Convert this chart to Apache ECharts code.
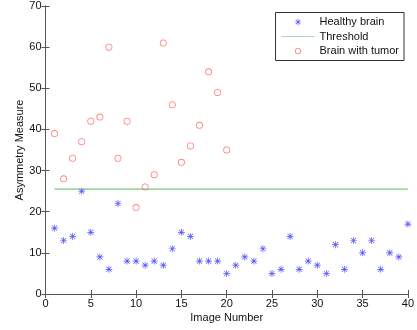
<!DOCTYPE html>
<html>
<head>
<meta charset="utf-8">
<script src="https://cdn.jsdelivr.net/npm/echarts@6/dist/echarts.min.js"></script>
<style>
  html, body { margin: 0; padding: 0; background: #fff; }
  #chart { width: 417px; height: 330px; }
</style>
</head>
<body>
<div id="chart"></div>
<script>
// healthy brain, image 1..40
const healthy = [16, 13, 14, 25, 15, 9, 6, 22, 8, 8, 7, 8, 7, 11, 15, 14, 8, 8, 8, 5,
                 7, 9, 8, 11, 5, 6, 14, 6, 8, 7, 5, 12, 6, 13, 10, 13, 6, 10, 9, 17];
// brain with tumor, image 1..20
const tumor = [39, 28, 33, 37, 42, 43, 60, 33, 42, 21, 26, 29, 61, 46, 32, 36, 41, 54, 49, 35];
const threshold = 25.5;
const thresholdRange = [1, 40];

const chart = echarts.init(document.getElementById('chart'));

// asterisk marker like matlab '*'
const starPath = 'M4.5 0L5.5 0L5.5 10L4.5 10Z M0 4.5L10 4.5L10 5.5L0 5.5Z M1 1.7L1.7 1L9 8.3L8.3 9Z M8.3 1L9 1.7L1.7 9L1 8.3Z';
const ringPath = 'M5 0A5 5 0 1 1 4.99 0Z M5 1.2A3.8 3.8 0 1 0 5.01 1.2Z';
const star = 'path://' + starPath;
const ring = 'path://' + ringPath;
// legend versions: empty sub-paths widen the box so the marker draws smaller
const pad = ' M-3 -3L-3 -3Z M13 13L13 13Z';
const lineIcon = 'path://M0 4.6L40 4.6L40 5.4L0 5.4Z';

const font = 'Liberation Sans';
const axisLine = { show: true, lineStyle: { color: '#555', width: 1 } };
const tick = { show: true, inside: true, length: 4, lineStyle: { color: '#555' } };

const blue = '#2a2aff';
const green = '#5cb85c';
const red = '#ff6060';

const option = {
  animation: false,
  grid: { left: 45.5, right: 8, top: 6, bottom: 36 },
  legend: {
    right: 13,
    top: 12.5,
    orient: 'vertical',
    backgroundColor: '#fff',
    borderColor: '#333',
    borderWidth: 1,
    padding: [4, 5, 4, 6],
    itemGap: 3.5,
    itemWidth: 33,
    itemHeight: 10,
    textStyle: { fontFamily: font, fontSize: 11, color: '#111' },
    data: [
      { name: 'Healthy brain', icon: star + pad, itemStyle: { color: blue } },
      { name: 'Threshold', icon: lineIcon, itemStyle: { color: green } },
      { name: 'Brain with tumor', icon: ring + pad, itemStyle: { color: red } }
    ]
  },
  xAxis: [
    {
      type: 'value', min: 0, max: 40, interval: 5,
      name: 'Image Number', nameLocation: 'middle', nameGap: 18, nameMoveOverlap: false,
      nameTextStyle: { fontFamily: font, fontSize: 11, color: '#111' },
      axisLine: axisLine, axisTick: tick, splitLine: { show: false },
      axisLabel: { fontFamily: font, fontSize: 11, color: '#111', margin: 4 }
    },
    {
      type: 'value', min: 0, max: 40, interval: 5, position: 'top',
      axisLine: axisLine, axisTick: tick, splitLine: { show: false },
      axisLabel: { show: false }
    }
  ],
  yAxis: [
    {
      type: 'value', min: 0, max: 70, interval: 10,
      name: 'Asymmetry Measure', nameLocation: 'middle', nameGap: 20, nameMoveOverlap: false,
      nameTextStyle: { fontFamily: font, fontSize: 11, color: '#111' },
      axisLine: axisLine, axisTick: tick, splitLine: { show: false },
      axisLabel: { fontFamily: font, fontSize: 11, color: '#111', margin: 4 }
    },
    {
      type: 'value', min: 0, max: 70, interval: 10, position: 'right',
      axisLine: axisLine, axisTick: tick, splitLine: { show: false },
      axisLabel: { show: false }
    }
  ],
  series: [
    {
      name: 'Healthy brain',
      type: 'scatter',
      symbol: star,
      symbolSize: 7,
      itemStyle: { color: blue },
      data: healthy.map((v, i) => [i + 1, v])
    },
    {
      name: 'Threshold',
      type: 'line',
      symbol: 'none',
      lineStyle: { color: green, width: 1 },
      itemStyle: { color: green },
      data: thresholdRange.map(x => [x, threshold])
    },
    {
      name: 'Brain with tumor',
      type: 'scatter',
      symbol: ring,
      symbolSize: 7,
      itemStyle: { color: red },
      data: tumor.map((v, i) => [i + 1, v])
    }
  ]
};

chart.setOption(option);
</script>
</body>
</html>
